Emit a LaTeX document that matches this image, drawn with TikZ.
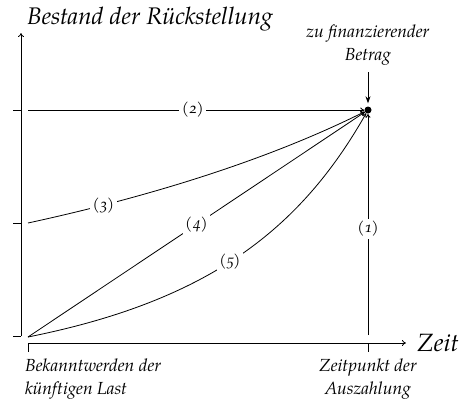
\documentclass[tikz,border=0pt]{standalone}
\usepackage{fontspec}
\setmainfont{TeX Gyre Pagella}[Numbers=OldStyle]
\usetikzlibrary{arrows.meta}
\begin{document}
\begin{tikzpicture}[x=1pt,y=-1pt,
  line/.style={line width=0.8pt},
  conn/.style={line width=0.8pt,-{To[length=4pt,width=5pt]}},
  lbl/.style={font=\fontsize{15.5}{22}\selectfont\itshape,fill=white,inner sep=2.5pt},
  txt/.style={font=\fontsize{17.5}{22.5}\selectfont\itshape,inner sep=0pt},
  big/.style={font=\fontsize{24}{28}\selectfont\itshape,inner sep=0pt},
  dot/.style={circle,fill=black,inner sep=0pt,minimum size=7pt}]
\useasboundingbox (0,0) rectangle (472,402);
% axes
\coordinate (Ybot) at (21,336);
\coordinate (Ytop) at (21,33);
\coordinate (Xl) at (28,343);
\coordinate (Xr) at (406,343);
\draw[line,-{To[length=4pt,width=6pt]}] (Ybot) -- (Ytop);
\draw[line,-{To[length=4pt,width=6pt]}] (Xl) -- (Xr);
\draw[line] (13,110) -- (21,110);
\draw[line] (13,223) -- (21,223);
\draw[line] (13,336) -- (21,336);
\draw[line] (28,343) -- (28,352);
\draw[line] (368,343) -- (368,352);
% texts
\node[big,anchor=base west] (title) at (27,24) {Bestand der Rückstellung};
\node[big,anchor=base west,font=\fontsize{25}{28}\selectfont\itshape] (zeit) at (417,351) {Zeit};
\node[txt,anchor=base,align=center] (betrag) at (368,60) {zu finanzierender\\Betrag};
\node[txt,anchor=base west,align=left] (bek) at (25,394) {Bekanntwerden der\\künftigen Last};
\node[txt,anchor=base,align=center] (zp) at (368,394) {Zeitpunkt der\\Auszahlung};
% points
\node[dot] (P) at (368,110) {};
\coordinate (S) at (28,337);
\coordinate (S2) at (28,110);
\coordinate (S3) at (28,223);
\coordinate (B1) at (368,335);
\coordinate (A) at (368,72);
% curves
\draw[line,-{Stealth[length=7pt,width=5pt]}] (A) -- ([yshift=3pt]P.north);
\draw[conn] (S2) -- node[lbl,pos=0.49] {(2)} (P);
\draw[conn] (B1) -- node[lbl,pos=0.48] {(1)} (P);
\draw[conn] (S) -- node[lbl,pos=0.5] {(4)} (P);
\draw[conn] (S3) .. controls (148,197) and (268,160) .. node[lbl,pos=0.21] {(3)} (P);
\draw[conn] (S) .. controls (208,301) and (300,230) .. node[lbl,pos=0.47] {(5)} (P);
\end{tikzpicture}
\end{document}
